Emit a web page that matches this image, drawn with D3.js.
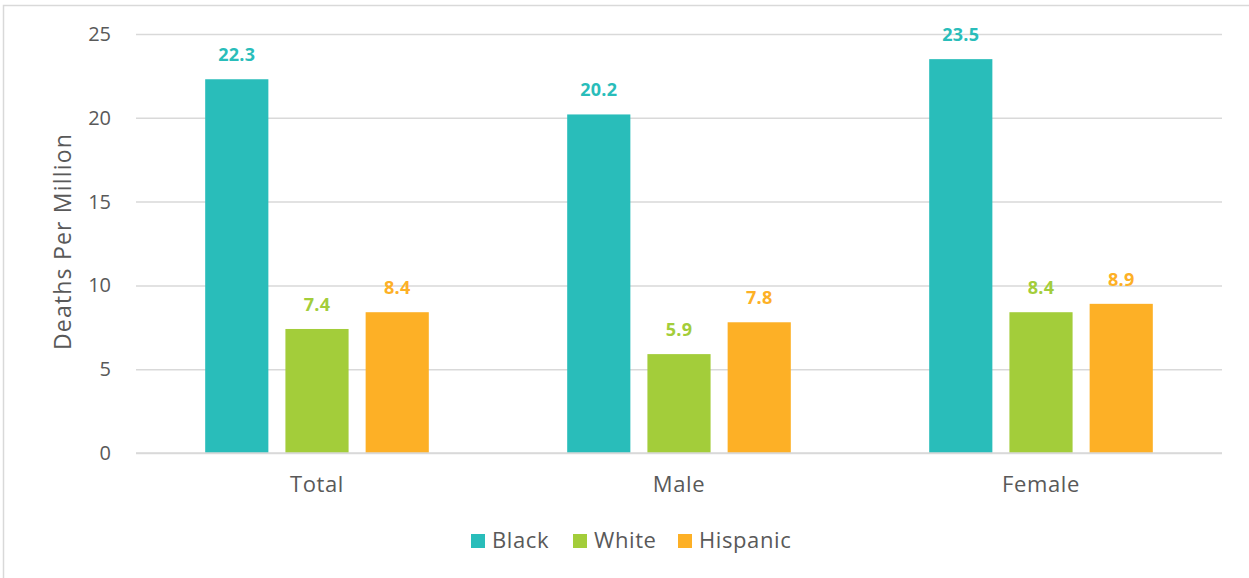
<!DOCTYPE html>
<html>
<head>
<meta charset="utf-8">
<script src="https://cdn.jsdelivr.net/npm/d3@7"></script>
<style>
  html, body { margin: 0; padding: 0; background: #fff; }
  svg { display: block; font-family: "Open Sans", Lato, sans-serif; }
  .grid line { stroke: #d9d9d9; stroke-width: 1.5; }
  .tick text { fill: #595959; }
</style>
</head>
<body>
<script>
// Chart data
const categories = ["Total", "Male", "Female"];
const seriesNames = ["Black", "White", "Hispanic"];
const blackValues = [22.3, 20.2, 23.5];
const whiteValues = [7.4, 5.9, 8.4];
const hispanicValues = [8.4, 7.8, 8.9];
const yTicks = [0, 5, 10, 15, 20, 25];
const colors = ["#29bdba", "#a3cd3a", "#fdb026"];

const valuesBySeries = [blackValues, whiteValues, hispanicValues];

// Flatten into one row per bar
let rows = [];
categories.forEach((cat, i) => {
    seriesNames.forEach((s, j) => {
        rows.push({category: cat, series: s, value: valuesBySeries[j][i], color: colors[j]});
    });
});

const width = 1249;
const height = 578;
const fontFamily = "'Open Sans', Lato, sans-serif";

// Plot area edges (px)
const plotLeft = 136, plotRight = 1222, plotTop = 34, plotBottom = 453;

const svg = d3.select("body").append("svg")
    .attr("width", width)
    .attr("height", height)
    .attr("viewBox", [0, 0, width, height]);

// Outer frame
svg.append("rect")
    .attr("x", 3.5).attr("y", 5.5)
    .attr("width", width + 10).attr("height", height + 10)
    .attr("fill", "none")
    .attr("stroke", "#d9d9d9")
    .attr("stroke-width", 1.5);

// Scales
let x0 = d3.scaleBand().domain(categories).range([plotLeft, plotRight]);
let x1 = d3.scaleBand().domain(seriesNames).range([0, x0.bandwidth()])
    .paddingInner(0.2125).paddingOuter(0.8625);
let y = d3.scaleLinear().domain([0, 25]).range([plotBottom, plotTop]);

// Horizontal gridlines + y tick labels
let yAxis = d3.axisLeft(y).tickValues(yTicks).tickSize(0).tickPadding(25);
let yAxisRef = svg.append("g")
    .attr("class", "grid")
    .attr("transform", `translate(${plotLeft}, 0)`)
    .call(yAxis);
yAxisRef.select(".domain").remove();
yAxisRef.selectAll(".tick line")
    .attr("x2", plotRight - plotLeft);
yAxisRef.selectAll(".tick text")
    .attr("font-size", 20)
    .attr("font-family", fontFamily);

// Bars
svg.append("g")
    .selectAll("rect")
    .data(rows)
    .enter()
    .append("rect")
    .attr("x", d => x0(d.category) + x1(d.series))
    .attr("y", d => y(d.value))
    .attr("width", x1.bandwidth())
    .attr("height", d => y(0) - y(d.value))
    .attr("fill", d => d.color);

// Value labels
svg.append("g")
    .selectAll("text")
    .data(rows)
    .enter()
    .append("text")
    .attr("x", d => x0(d.category) + x1(d.series) + x1.bandwidth() / 2)
    .attr("y", d => y(d.value) - 18)
    .attr("text-anchor", "middle")
    .attr("font-size", 18)
    .attr("font-weight", "bold")
    .attr("letter-spacing", 0.3)
    .attr("fill", d => d.color)
    .text(d => d.value.toFixed(1));

// Category axis (labels only)
let xAxis = d3.axisBottom(x0).tickSize(0).tickPadding(23);
let xAxisRef = svg.append("g")
    .attr("transform", `translate(0, ${plotBottom})`)
    .call(xAxis);
xAxisRef.select(".domain").remove();
xAxisRef.selectAll(".tick text")
    .attr("font-size", 22)
    .attr("letter-spacing", 0.6)
    .attr("font-family", fontFamily);

// Redraw the zero line on top of the bars
svg.append("line")
    .attr("x1", plotLeft).attr("x2", plotRight)
    .attr("y1", y(0)).attr("y2", y(0))
    .attr("stroke", "#d9d9d9")
    .attr("stroke-width", 1.5);

// Y axis title
svg.append("text")
    .attr("transform", `translate(71, ${(plotTop + plotBottom) / 2 - 2}) rotate(-90)`)
    .attr("text-anchor", "middle")
    .attr("font-size", 23)
    .attr("letter-spacing", 1.2)
    .attr("fill", "#595959")
    .text("Deaths Per Million");

// Legend
const legendX = [471, 573, 678];
const legend = svg.append("g")
    .selectAll("g")
    .data(seriesNames)
    .enter()
    .append("g")
    .attr("transform", (d, i) => `translate(${legendX[i]}, 534)`);
legend.append("rect")
    .attr("width", 14).attr("height", 14)
    .attr("fill", (d, i) => colors[i]);
legend.append("text")
    .attr("x", 21).attr("y", 14)
    .attr("font-size", 22)
    .attr("letter-spacing", 0.6)
    .attr("fill", "#595959")
    .text(d => d);
</script>
</body>
</html>
